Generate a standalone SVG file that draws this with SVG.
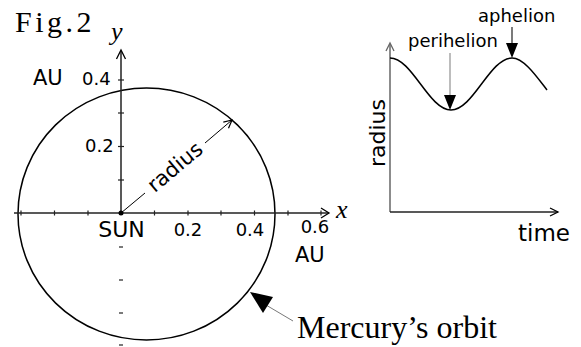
<svg xmlns="http://www.w3.org/2000/svg" width="581" height="347" viewBox="0 0 581 347">
<style>
.sans{font-family:"DejaVu Sans","Liberation Sans",sans-serif;fill:#000}
.serif{font-family:"Liberation Serif","Times New Roman",serif;fill:#000}
.ital{font-family:"Liberation Serif","Times New Roman",serif;font-style:italic;fill:#000}
.ax{stroke:#222;stroke-width:1.5;fill:none}
.tk{stroke:#222;stroke-width:1.2}
.open{stroke:#000;stroke-width:1.3;fill:none}
</style>
<defs>
<marker id="arr" markerWidth="10" markerHeight="10" refX="9" refY="5" orient="auto" markerUnits="userSpaceOnUse">
<path d="M1,1 L9,5 L1,9" fill="none" stroke="#000" stroke-width="1.2"/>
</marker>
</defs>
<rect width="581" height="347" fill="#fff"/>

<text class="serif" x="15" y="32" font-size="30" letter-spacing="3.5">Fig.2</text>

<g id="orbit-plot">
<ellipse id="orbit" cx="146.5" cy="214" rx="128.5" ry="126" fill="none" stroke="#000" stroke-width="1.5"/>
<g id="axes-left">
<line class="ax" x1="14" y1="213" x2="329" y2="213"/>
<path class="open" d="M321,208 L329,213 L321,218"/>
<line class="ax" x1="121" y1="213" x2="121" y2="51"/>
<path class="open" d="M116.5,59 L121,50 L125.5,59"/>
<g class="tk">
<line x1="21" y1="210.5" x2="21" y2="215.5"/>
<line x1="54.5" y1="210.5" x2="54.5" y2="215.5"/>
<line x1="88" y1="210.5" x2="88" y2="215.5"/>
<line x1="154.5" y1="210.5" x2="154.5" y2="215.5"/>
<line x1="188" y1="210.5" x2="188" y2="215.5"/>
<line x1="221" y1="210.5" x2="221" y2="215.5"/>
<line x1="254.5" y1="210.5" x2="254.5" y2="215.5"/>
<line x1="288" y1="210.5" x2="288" y2="215.5"/>
<line x1="321" y1="210.5" x2="321" y2="215.5"/>
<line x1="118" y1="180" x2="124" y2="180"/>
<line x1="118" y1="146.5" x2="124" y2="146.5"/>
<line x1="118" y1="113" x2="124" y2="113"/>
<line x1="118" y1="80" x2="124" y2="80"/>
<line x1="119" y1="247" x2="123" y2="247"/>
<line x1="119" y1="280" x2="123" y2="280"/>
<line x1="119" y1="313" x2="123" y2="313"/>
<line x1="119" y1="345" x2="123" y2="345"/>
</g>
</g>
<circle id="sun" cx="121" cy="213" r="2.5" fill="#000"/>
<text class="ital" x="111" y="40" font-size="26">y</text>
<text class="ital" x="336" y="218" font-size="26">x</text>
<text class="sans" x="33" y="85" font-size="21">AU</text>
<text class="sans" x="82" y="85" font-size="18">0.4</text>
<text class="sans" x="85" y="152" font-size="18">0.2</text>
<text class="sans" x="121.5" y="237" font-size="22" text-anchor="middle">SUN</text>
<text class="sans" x="188" y="236" font-size="18" text-anchor="middle">0.2</text>
<text class="sans" x="250" y="236" font-size="18" text-anchor="middle">0.4</text>
<text class="sans" x="315" y="233" font-size="18" text-anchor="middle">0.6</text>
<text class="sans" x="295" y="262" font-size="21">AU</text>
</g>

<g id="connectors">
<line x1="121" y1="213" x2="145" y2="193" stroke="#000" stroke-width="1"/>
<line x1="205" y1="143" x2="232" y2="120" stroke="#000" stroke-width="1" marker-end="url(#arr)"/>
<line x1="266" y1="305" x2="293" y2="321" stroke="#555" stroke-width="0.8"/>
<polygon points="250,292 273,297 263,313" fill="#000"/>
<line x1="450" y1="53" x2="450" y2="96" stroke="#999" stroke-width="1.3"/>
<polygon points="444,95 456,95 450,110" fill="#000"/>
<line x1="512" y1="27" x2="512" y2="44" stroke="#333" stroke-width="1.3"/>
<polygon points="506,43 518,43 512,58" fill="#000"/>
</g>

<g id="radius-label">
<text class="sans" font-size="21" text-anchor="middle" transform="translate(175,167) rotate(-40)" y="7">radius</text>
</g>

<g id="mercury-label">
<text class="serif" x="297" y="338" font-size="32">Mercury’s orbit</text>
</g>

<g id="radius-time-plot">
<line x1="390" y1="212" x2="390" y2="44" stroke="#666" stroke-width="1.5"/>
<path d="M386,51 L390,43 L394,51" fill="none" stroke="#666" stroke-width="1.3"/>
<line x1="390" y1="212" x2="558" y2="212" stroke="#222" stroke-width="1.5"/>
<path class="open" d="M550,208 L558,212 L550,216"/>
<path id="curve" d="M390,58 C412.2,58 428.8,110 451,110 C473.2,110 489.8,58 512,58 C524,58 537,77 547,90" fill="none" stroke="#000" stroke-width="1.5"/>
<text class="sans" x="408" y="47" font-size="18">perihelion</text>
<text class="sans" x="478" y="22" font-size="18">aphelion</text>
<text class="sans" font-size="22" text-anchor="middle" transform="translate(385,133) rotate(-90)">radius</text>
<text class="sans" x="518" y="241" font-size="23">time</text>
</g>
</svg>
